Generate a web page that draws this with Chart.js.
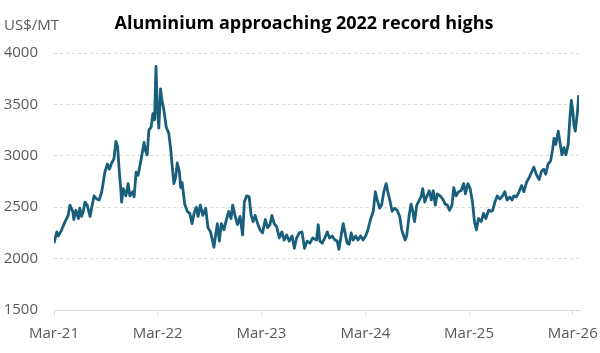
<!DOCTYPE html>
<html>
<head>
<meta charset="utf-8">
<script src="https://cdn.jsdelivr.net/npm/chart.js@4"></script>
<style>
  html, body { margin: 0; padding: 0; background: #fff; }
  #wrap { width: 600px; height: 353px; }
</style>
</head>
<body>
<div id="wrap"><canvas id="chart"></canvas></div>
<script>
// LME aluminium, US$/MT — x is days since 1 Mar 2021
const days = [
  0, 10, 15, 27, 39, 50, 56, 66, 70, 77, 86, 91, 97, 103, 109, 117, 127, 133, 141, 150,
  159, 168, 179, 188, 195, 203, 211, 218, 224, 230, 235, 238, 244, 253, 261, 267, 277, 282, 289, 296,
  307, 317, 321, 328, 334, 342, 348, 354, 359, 364, 369, 375, 380, 387, 395, 404, 411, 416, 422, 428,
  434, 441, 446, 451, 460, 469, 478, 486, 493, 501, 507, 515, 524, 534, 542, 551, 563, 570, 575, 582,
  589, 598, 605, 615, 623, 629, 637, 646, 655, 664, 670, 678, 687, 694, 701, 708, 717, 725, 734, 744,
  752, 760, 767, 775, 784, 793, 802, 810, 819, 828, 838, 846, 854, 863, 873, 882, 891, 901, 910, 924,
  930, 936, 944, 953, 962, 970, 979, 989, 997, 1003, 1011, 1018, 1026, 1032, 1039, 1046, 1053, 1062, 1070, 1079,
  1088, 1097, 1105, 1114, 1124, 1131, 1138, 1146, 1153, 1161, 1169, 1175, 1182, 1190, 1199, 1208, 1217, 1224, 1231, 1236,
  1242, 1250, 1257, 1263, 1269, 1277, 1286, 1293, 1298, 1305, 1313, 1321, 1328, 1335, 1342, 1349, 1359, 1368, 1377, 1385,
  1392, 1401, 1407, 1415, 1424, 1433, 1442, 1448, 1457, 1465, 1473, 1480, 1487, 1494, 1504, 1512, 1520, 1530, 1539, 1544,
  1552, 1560, 1569, 1579, 1587, 1595, 1605, 1612, 1619, 1628, 1637, 1646, 1654, 1663, 1673, 1681, 1689, 1699, 1708, 1716,
  1724, 1731, 1739, 1748, 1755, 1760, 1766, 1775, 1781, 1788, 1795, 1802, 1810, 1816, 1821, 1826, 1830, 1835, 1843, 1847
];
const priceUsd = [
  2150, 2260, 2220, 2280, 2360, 2420, 2520, 2460, 2380, 2470, 2390, 2490, 2410, 2460, 2550, 2520, 2410, 2500, 2610, 2580,
  2570, 2650, 2840, 2920, 2870, 2930, 2970, 3140, 3090, 2840, 2680, 2550, 2680, 2610, 2730, 2610, 2650, 2600, 2840, 2810,
  2970, 3130, 3060, 3010, 3250, 3280, 3410, 3350, 3870, 3440, 3270, 3650, 3540, 3440, 3280, 3220, 3060, 2900, 2730, 2790,
  2930, 2850, 2690, 2740, 2530, 2460, 2440, 2340, 2440, 2500, 2410, 2520, 2420, 2490, 2300, 2260, 2110, 2250, 2340, 2170,
  2340, 2280, 2360, 2460, 2390, 2520, 2420, 2330, 2410, 2230, 2550, 2610, 2600, 2420, 2360, 2420, 2340, 2280, 2250, 2380,
  2300, 2330, 2420, 2340, 2310, 2200, 2260, 2180, 2230, 2170, 2220, 2100, 2200, 2250, 2260, 2100, 2170, 2150, 2200, 2180,
  2330, 2170, 2150, 2200, 2260, 2200, 2220, 2180, 2170, 2090, 2230, 2340, 2230, 2150, 2140, 2250, 2180, 2220, 2180, 2220,
  2180, 2220, 2280, 2380, 2460, 2650, 2570, 2490, 2520, 2650, 2730, 2650, 2570, 2460, 2490, 2470, 2410, 2280, 2220, 2180,
  2230, 2420, 2530, 2460, 2360, 2520, 2570, 2610, 2680, 2550, 2610, 2660, 2570, 2660, 2520, 2630, 2610, 2580, 2530, 2520,
  2470, 2520, 2690, 2610, 2650, 2660, 2730, 2630, 2730, 2680, 2550, 2360, 2280, 2390, 2360, 2440, 2390, 2470, 2460, 2470,
  2550, 2610, 2580, 2610, 2650, 2570, 2600, 2570, 2610, 2600, 2650, 2710, 2650, 2740, 2790, 2840, 2890, 2810, 2770, 2850,
  2870, 2820, 2920, 2950, 3060, 3170, 3110, 3240, 3130, 3010, 3080, 3010, 3110, 3370, 3540, 3440, 3300, 3240, 3440, 3590
];

const tickDays = [0, 365, 730, 1096, 1461, 1826];
const tickLabels = ['Mar-21', 'Mar-22', 'Mar-23', 'Mar-24', 'Mar-25', 'Mar-26'];
const yTicks = [1500, 2000, 2500, 3000, 3500, 4000];

const TEXT = '#595959';
const GRID = '#d9d9d9';
const LINE = '#195e7b';
const FONT = "'Open Sans', sans-serif";

// title + unit label drawn straight on the canvas
const headerText = {
  id: 'headerText',
  afterDraw(chart) {
    const ctx = chart.ctx;
    ctx.save();
    ctx.textBaseline = 'alphabetic';
    ctx.fillStyle = TEXT;
    ctx.font = `15px ${FONT}`;
    ctx.textAlign = 'left';
    ctx.fillText('US$/MT', 4, 30);
    ctx.fillStyle = '#000';
    ctx.font = `bold 18px ${FONT}`;
    ctx.textAlign = 'center';
    ctx.fillText('Aluminium approaching 2022 record highs', 304, 29);
    ctx.restore();
  }
};

new Chart(document.getElementById('chart'), {
  type: 'line',
  data: {
    datasets: [{
      data: days.map((d, i) => ({ x: d, y: priceUsd[i] })),
      borderColor: LINE,
      borderWidth: 2.8,
      borderJoinStyle: 'round',
      pointRadius: 0,
      tension: 0,
      fill: false
    }]
  },
  options: {
    responsive: true, maintainAspectRatio: false,
    animation: false,
    layout: { padding: { top: 53, left: 4, right: 21, bottom: 1 } },
    plugins: { legend: { display: false }, tooltip: { enabled: false }, title: { display: false } },
    scales: {
      x: {
        type: 'linear', min: 0, max: 1848,
        afterBuildTicks: s => { s.ticks = tickDays.map(v => ({ value: v })); },
        afterFit: s => { s.paddingLeft = 0; s.paddingRight = 0; },
        grid: { drawOnChartArea: false, drawTicks: true, tickLength: 5, color: GRID },
        border: { display: true, color: GRID },
        ticks: {
          color: TEXT, font: { family: FONT, size: 15, lineHeight: 1 }, padding: 11, maxRotation: 0, autoSkip: false,
          callback: v => tickLabels[tickDays.indexOf(v)] ?? ''
        }
      },
      y: {
        min: 1500, max: 4000,
        afterBuildTicks: s => { s.ticks = yTicks.map(v => ({ value: v })); },
        afterFit: s => { s.width = 50; },
        grid: { color: GRID, drawTicks: false },
        border: { display: false, dash: [3, 3] },
        ticks: { color: TEXT, font: { family: FONT, size: 15 }, padding: 16, callback: v => String(v) }
      }
    }
  },
  plugins: [headerText]
});
</script>
</body>
</html>
